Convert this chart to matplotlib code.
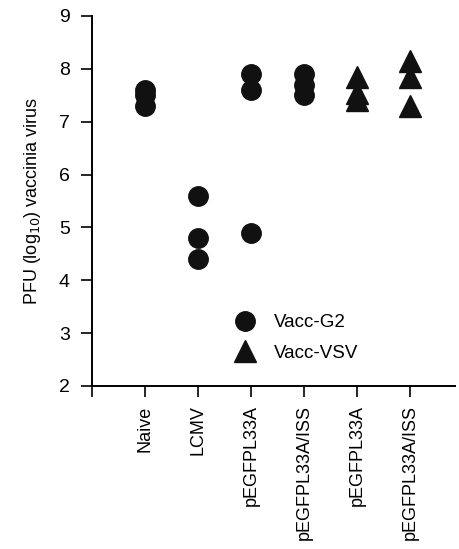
import numpy as np
import matplotlib.pyplot as plt

plt.rcParams['font.family'] = ['Liberation Sans', 'DejaVu Sans']

groups = ["Naive", "LCMV", "pEGFPL33A", "pEGFPL33A/ISS", "pEGFPL33A", "pEGFPL33A/ISS"]

# Vacc-G2 (circles), groups 1-4
g2_pos = [1, 2, 3, 4]
g2_vals = [[7.6, 7.5, 7.3],
           [5.6, 4.8, 4.4],
           [7.9, 7.6, 4.9],
           [7.9, 7.7, 7.5]]

# Vacc-VSV (triangles), groups 5-6
vsv_pos = [5, 6]
vsv_vals = [[7.85, 7.55, 7.4],
            [8.15, 7.85, 7.3]]

fig = plt.figure(figsize=(4.6, 5.49), dpi=100)
ax = fig.add_axes([0.2, 0.297, 0.789, 0.674])

for p, v in zip(g2_pos, g2_vals):
    ax.plot([p] * len(v), v, 'o', color='#111111', markersize=14, linestyle='none')
for p, v in zip(vsv_pos, vsv_vals):
    ax.plot([p] * len(v), v, '^', color='#111111', markersize=15.5, linestyle='none')

h1, = ax.plot([], [], 'o', color='#111111', markersize=14, linestyle='none')
h2, = ax.plot([], [], '^', color='#111111', markersize=15.5, linestyle='none')
ax.legend([h1, h2], ["Vacc-G2", "Vacc-VSV"], loc='lower left',
          bbox_to_anchor=(0.345, 0.02), frameon=False, fontsize=13.5,
          handletextpad=0.9, labelspacing=0.7, handlelength=1.2)

ax.set_xlim(0, 6.85)
ax.set_ylim(2, 9)
ax.set_xticks(range(0, 7))
ax.set_xticklabels([""] + groups, rotation=90, fontsize=13)
ax.set_yticks(range(2, 10))
ax.tick_params(axis='y', labelsize=14, length=8, width=1.2, direction='out', pad=8)
ax.tick_params(axis='x', length=8, width=1.2, direction='out', pad=6)
ax.set_ylabel(r"PFU (log$_{10}$) vaccinia virus", fontsize=13, labelpad=11)

for s in ['top', 'right']:
    ax.spines[s].set_visible(False)
ax.spines['left'].set_linewidth(1.4)
ax.spines['bottom'].set_linewidth(1.4)

fig.savefig("out.png", dpi=100)
